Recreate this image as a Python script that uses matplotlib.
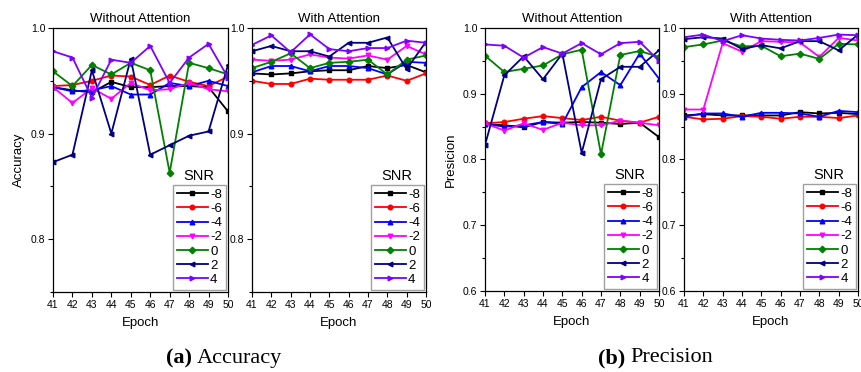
import matplotlib
matplotlib.use("Agg")
import matplotlib.pyplot as plt
from matplotlib.ticker import MultipleLocator

plt.rcParams["font.family"] = ["Liberation Sans", "DejaVu Sans"]

epochs = list(range(41, 51))
snr_labels = ["-8", "-6", "-4", "-2", "0", "2", "4"]
colors = ["#000000", "#FF0000", "#0000FF", "#FF00FF", "#008000", "#000080", "#8000FF"]
markers = ["s", "o", "^", "v", "D", "<", ">"]

# accuracy, no attention (one row per SNR)
acc_plain = [
    [0.944, 0.941, 0.939, 0.949, 0.944, 0.944, 0.945, 0.945, 0.944, 0.921],
    [0.945, 0.946, 0.950, 0.955, 0.954, 0.946, 0.955, 0.949, 0.945, 0.954],
    [0.944, 0.940, 0.941, 0.945, 0.937, 0.937, 0.948, 0.945, 0.950, 0.945],
    [0.944, 0.929, 0.943, 0.933, 0.948, 0.941, 0.942, 0.948, 0.942, 0.940],
    [0.959, 0.945, 0.965, 0.956, 0.967, 0.960, 0.863, 0.967, 0.962, 0.956],
    [0.873, 0.880, 0.960, 0.900, 0.971, 0.880, 0.889, 0.898, 0.902, 0.965],
    [0.978, 0.972, 0.934, 0.970, 0.967, 0.983, 0.948, 0.972, 0.985, 0.953],
]

# accuracy, with attention
acc_attn = [
    [0.957, 0.956, 0.957, 0.959, 0.960, 0.960, 0.964, 0.962, 0.965, 0.958],
    [0.950, 0.947, 0.947, 0.952, 0.951, 0.951, 0.951, 0.955, 0.950, 0.957],
    [0.958, 0.964, 0.964, 0.959, 0.964, 0.964, 0.962, 0.956, 0.968, 0.967],
    [0.970, 0.969, 0.970, 0.975, 0.972, 0.971, 0.974, 0.970, 0.983, 0.975],
    [0.962, 0.968, 0.976, 0.962, 0.967, 0.968, 0.970, 0.956, 0.970, 0.974],
    [0.978, 0.983, 0.978, 0.978, 0.973, 0.986, 0.986, 0.991, 0.961, 0.987],
    [0.984, 0.993, 0.977, 0.994, 0.980, 0.978, 0.981, 0.981, 0.988, 0.986],
]

# precision, no attention
prec_plain = [
    [0.854, 0.852, 0.849, 0.857, 0.856, 0.857, 0.856, 0.854, 0.856, 0.834],
    [0.855, 0.857, 0.862, 0.866, 0.863, 0.860, 0.865, 0.859, 0.856, 0.865],
    [0.854, 0.850, 0.852, 0.857, 0.854, 0.910, 0.933, 0.913, 0.961, 0.923],
    [0.855, 0.844, 0.855, 0.845, 0.856, 0.852, 0.852, 0.859, 0.856, 0.852],
    [0.958, 0.933, 0.938, 0.943, 0.960, 0.967, 0.808, 0.959, 0.965, 0.956],
    [0.822, 0.928, 0.957, 0.922, 0.961, 0.810, 0.922, 0.941, 0.941, 0.966],
    [0.975, 0.973, 0.955, 0.971, 0.961, 0.977, 0.960, 0.977, 0.979, 0.950],
]

# precision, with attention
prec_attn = [
    [0.867, 0.869, 0.867, 0.867, 0.867, 0.867, 0.872, 0.870, 0.871, 0.869],
    [0.865, 0.861, 0.862, 0.866, 0.865, 0.862, 0.865, 0.865, 0.863, 0.867],
    [0.865, 0.870, 0.870, 0.865, 0.871, 0.871, 0.870, 0.865, 0.874, 0.872],
    [0.876, 0.876, 0.977, 0.964, 0.980, 0.979, 0.978, 0.956, 0.985, 0.981],
    [0.971, 0.975, 0.981, 0.972, 0.973, 0.957, 0.961, 0.953, 0.976, 0.975],
    [0.983, 0.986, 0.984, 0.968, 0.974, 0.969, 0.980, 0.980, 0.966, 0.990],
    [0.986, 0.990, 0.980, 0.989, 0.984, 0.982, 0.981, 0.985, 0.990, 0.989],
]

W, H = 862, 372
fig = plt.figure(figsize=(W / 100, H / 100), dpi=100)


def px_axes(x0, x1, y0, y1):
    return fig.add_axes([x0 / W, 1 - y1 / H, (x1 - x0) / W, (y1 - y0) / H])


def draw_panel(ax, series, title, ylim, major, ylabel=None):
    for vals, lab, c, m in zip(series, snr_labels, colors, markers):
        ax.plot(epochs, vals, color=c, marker=m, markersize=3.3, lw=1.3, label=lab)
    ax.set_xlim(41, 50)
    ax.set_ylim(*ylim)
    ax.set_xticks(epochs)
    ax.yaxis.set_major_locator(MultipleLocator(major))
    ax.yaxis.set_minor_locator(MultipleLocator(major / 2))
    ax.yaxis.set_major_formatter(plt.FormatStrFormatter("%.1f"))
    ax.tick_params(direction="out", labelsize=7.5, length=3.5, width=0.8, pad=2)
    ax.tick_params(which="minor", direction="out", length=2, width=0.8)
    for s in ax.spines.values():
        s.set_linewidth(0.9)
    ax.set_title(title, fontsize=9.5, pad=4)
    ax.set_xlabel("Epoch", fontsize=9.5, labelpad=5)
    if ylabel:
        ax.set_ylabel(ylabel, fontsize=9.5, labelpad=4)
    leg = ax.legend(loc="lower right", fontsize=9.5, frameon=True, fancybox=False,
                    edgecolor="#A0A0A0", framealpha=1, borderpad=0.3,
                    labelspacing=0.15, handlelength=2.4, handletextpad=0.15,
                    borderaxespad=0.15)
    leg.get_frame().set_linewidth(1.0)
    return leg


axes = [
    px_axes(53, 228, 28, 292),
    px_axes(252, 426, 28, 292),
    px_axes(485, 659, 28, 291),
    px_axes(684, 858, 28, 291),
]
legs = [
    draw_panel(axes[0], acc_plain, "Without Attention", (0.75, 1.0), 0.1, "Accuracy"),
    draw_panel(axes[1], acc_attn, "With Attention", (0.75, 1.0), 0.1),
    draw_panel(axes[2], prec_plain, "Without Attention", (0.6, 1.0), 0.1, "Presicion"),
    draw_panel(axes[3], prec_attn, "With Attention", (0.6, 1.0), 0.1),
]

# "SNR" heading sits just above each legend box
fig.canvas.draw()
for leg in legs:
    bb = leg.get_window_extent()
    fig.text((bb.x0 + bb.x1) / 2 / W, (bb.y1 + 2) / H, "SNR", fontsize=10.5,
             ha="center", va="bottom")

# sub-figure captions
serif = ["Liberation Serif", "DejaVu Serif"]
cap_y = 1 - 358 / H
fig.text(192 / W, cap_y, "(a)", family=serif, fontsize=16, fontweight="bold",
         ha="right", va="center")
fig.text(197 / W, cap_y, "Accuracy", family=serif, fontsize=16, ha="left", va="center")
fig.text(625 / W, cap_y, "(b)", family=serif, fontsize=16, fontweight="bold",
         ha="right", va="center")
fig.text(630 / W, cap_y, "Precision", family=serif, fontsize=16, ha="left", va="center")

fig.savefig("out.png", dpi=100)
